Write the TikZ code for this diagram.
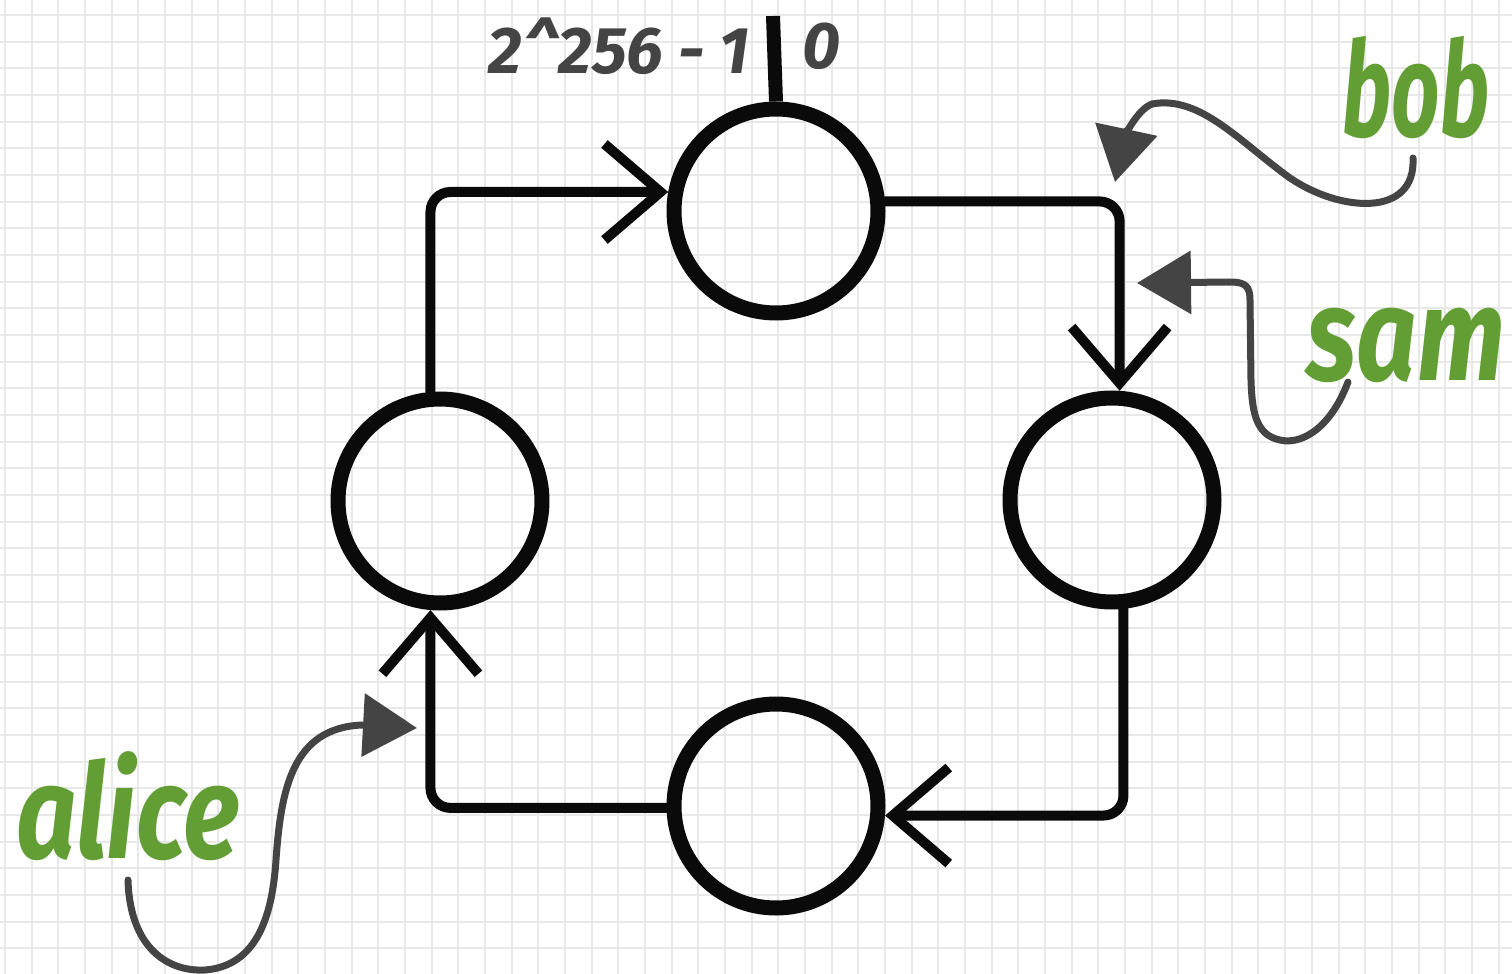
\documentclass[tikz,border=0pt]{standalone}
\usepackage{fontspec}
\usetikzlibrary{arrows.meta}
\newfontfamily\handfont{Fira Sans}
\definecolor{gridc}{RGB}{232,232,232}
\definecolor{ink}{RGB}{10,10,10}
\definecolor{pen}{RGB}{68,68,68}
\definecolor{leaf}{RGB}{98,158,52}
\tikzset{
  ring/.style={circle, draw=ink, line width=7.5pt, minimum size=102pt, inner sep=0pt},
  conn/.style={draw=ink, line width=5pt, line cap=round, rounded corners=10pt,
    -{Straight Barb[length=28pt,width=48pt,line width=5pt]}},
  tickline/.style={draw=ink, line width=7pt},
  pointer/.style={draw=pen, line width=3.5pt, line cap=round,
    -{Triangle[length=27pt,width=31pt]}},
  plabel/.style={text=leaf, font=\handfont\bfseries\itshape\fontsize{66}{70}\selectfont, inner sep=0pt},
  numlab/.style={text=pen, font=\handfont\bfseries\itshape\fontsize{33}{38}\selectfont, inner sep=0pt}
}
\begin{document}
\begin{tikzpicture}[x=0.5pt,y=-0.5pt]
\useasboundingbox (0,0) rectangle (1512,974);
\fill[white] (0,0) rectangle (1512,974);
\foreach \i in {0,...,57} \draw[gridc, line width=1pt] ({5+26.67*\i},0) -- ({5+26.67*\i},974);
\foreach \j in {0,...,36} \draw[gridc, line width=1pt] (0,{15+26.67*\j}) -- (1512,{15+26.67*\j});

% rings
\node[ring] (tc) at (776,211) {};
\node[ring] (lc) at (440,501) {};
\node[ring] (rc) at (1112,500) {};
\node[ring] (bc) at (776,806) {};

% top tick and labels
\coordinate (tickend) at (773,16);
\draw[tickline] (tc.north) -- (tickend);
\node[numlab, anchor=east] (lmax) at (750,46) {2\textasciicircum256 - 1};
\node[numlab] (lzero) at (822,46) {0};

% ring connectors
\draw[conn] (lc.95) |- (tc.170);
\draw[conn] (tc.5) -| (rc.86);
\draw[conn] (rc.-84) |- (bc.-5);
\draw[conn] (bc.181) -| (lc.-95);

% pointers
\coordinate (bobs) at (1413,158);
\coordinate (bobt) at (1115,182);
\coordinate (sams) at (1348,382);
\coordinate (samt) at (1137,283);
\coordinate (alis) at (128,880);
\coordinate (alit) at (417,728);
\draw[pointer] (bobs) .. controls (1416,218) and (1340,212) .. (1290,178)
  .. controls (1240,142) and (1200,95) .. (1152,104)
  .. controls (1136,110) and (1124,140) .. (bobt);
\draw[pointer] (sams) .. controls (1330,430) and (1300,445) .. (1280,440)
  .. controls (1255,435) and (1252,410) .. (1251,380) -- (1250,300)
  .. controls (1250,286) and (1245,282) .. (1230,282) -- (samt);
\draw[pointer] (alis) .. controls (130,950) and (170,972) .. (205,970)
  .. controls (255,966) and (272,920) .. (276,860)
  .. controls (281,790) and (292,728) .. (362,725) -- (alit);

% names
\node[plabel] (bob) at (1416,88) {\scalebox{0.64}[1]{bob}};
\node[plabel] (sam) at (1406,345) {\scalebox{0.8}[1]{sam}};
\node[plabel] (alice) at (128,806) {\scalebox{0.8}[1]{alice}};
\end{tikzpicture}
\end{document}
